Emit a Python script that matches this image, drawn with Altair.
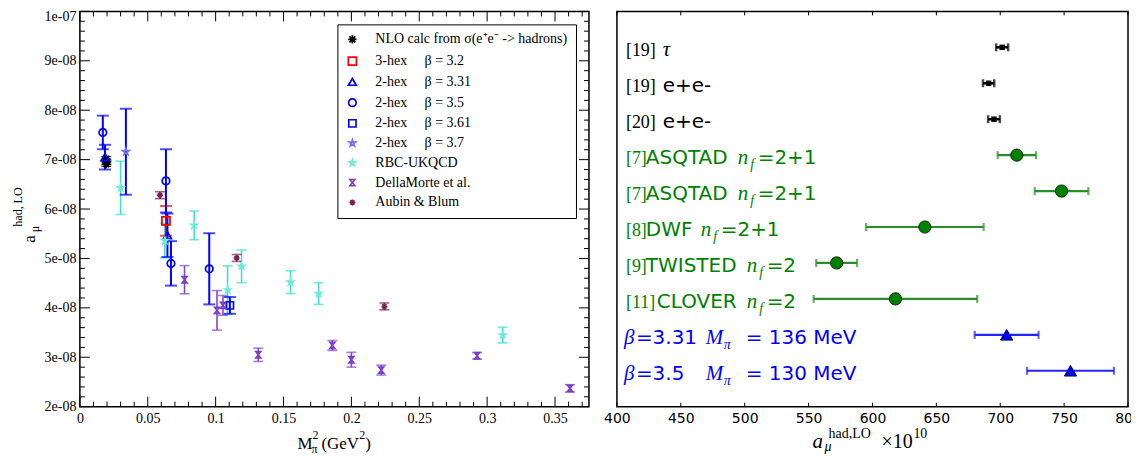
import altair as alt
import pandas as pd

NB = "\u00a0"

# ================= LEFT PANEL DATA  (x = M_pi^2 [GeV^2], y = a_mu^{had,LO}) =================
S_NLO = "NLO calc from σ(e⁺e⁻ -> hadrons)"
S_H32 = "3-hex" + NB * 5 + "β = 3.2"
S_H331 = "2-hex" + NB * 5 + "β = 3.31"
S_H35 = "2-hex" + NB * 5 + "β = 3.5"
S_H361 = "2-hex" + NB * 5 + "β = 3.61"
S_H37 = "2-hex" + NB * 5 + "β = 3.7"
S_RBC = "RBC-UKQCD"
S_DM = "DellaMorte et al."
S_AB = "Aubin & Blum"
series_order = [S_NLO, S_H32, S_H331, S_H35, S_H361, S_H37, S_RBC, S_DM, S_AB]

nlo_m2 = [0.0195, 0.0195, 0.0195]
nlo_amu = [6.909e-8, 6.951e-8, 7.015e-8]
nlo_err = [0.044e-8, 0.046e-8, 0.047e-8]

h32_m2 = [0.0634]
h32_amu = [5.76e-8]
h32_err = [0.30e-8]

h331_m2 = [0.0185, 0.0645]
h331_amu = [7.05e-8, 5.47e-8]
h331_err = [0.25e-8, 0.44e-8]

h35_m2 = [0.0169, 0.0634, 0.0671, 0.0953]
h35_amu = [7.55e-8, 6.57e-8, 4.90e-8, 4.79e-8]
h35_err = [0.34e-8, 0.64e-8, 0.45e-8, 0.72e-8]

h361_m2 = [0.1105]
h361_amu = [4.05e-8]
h361_err = [0.17e-8]

h37_m2 = [0.0339]
h37_amu = [7.16e-8]
h37_err = [0.87e-8]

rbc_m2 = [0.0300, 0.0626, 0.0842, 0.1088, 0.1191, 0.1552, 0.1759, 0.3115]
rbc_amu = [6.43e-8, 5.36e-8, 5.67e-8, 4.36e-8, 4.84e-8, 4.52e-8, 4.29e-8, 3.45e-8]
rbc_err = [0.54e-8, 0.35e-8, 0.29e-8, 0.49e-8, 0.33e-8, 0.23e-8, 0.22e-8, 0.16e-8]

dm_m2 = [0.0771, 0.1010, 0.1054, 0.1314, 0.1860, 0.2000, 0.2220, 0.2926, 0.3610]
dm_amu = [4.57e-8, 3.95e-8, 4.05e-8, 3.05e-8, 3.24e-8, 2.95e-8, 2.74e-8, 3.03e-8, 2.37e-8]
dm_err = [0.285e-8, 0.40e-8, 0.20e-8, 0.135e-8, 0.10e-8, 0.15e-8, 0.10e-8, 0.065e-8, 0.075e-8]

ab_m2 = [0.0590, 0.1155, 0.2243]
ab_amu = [6.28e-8, 5.01e-8, 4.03e-8]
ab_err = [0.07e-8, 0.07e-8, 0.07e-8]

left_sets = [
    (S_NLO, nlo_m2, nlo_amu, nlo_err),
    (S_H32, h32_m2, h32_amu, h32_err),
    (S_H331, h331_m2, h331_amu, h331_err),
    (S_H35, h35_m2, h35_amu, h35_err),
    (S_H361, h361_m2, h361_amu, h361_err),
    (S_H37, h37_m2, h37_amu, h37_err),
    (S_RBC, rbc_m2, rbc_amu, rbc_err),
    (S_DM, dm_m2, dm_amu, dm_err),
    (S_AB, ab_m2, ab_amu, ab_err),
]

x_major = [0, 0.05, 0.1, 0.15, 0.2, 0.25, 0.3, 0.35]
x_minor = [round(i * 0.01, 2) for i in range(38) if i % 5 != 0]
y_major = [2e-8, 3e-8, 4e-8, 5e-8, 6e-8, 7e-8, 8e-8, 9e-8, 1e-7]
y_minor = [round((20 + i * 2) * 1e-9, 12) for i in range(41) if i % 5 != 0]

# ---- styles (kept apart from the data) ----
ASTER = "M-1,0L1,0M0,-1L0,1M-0.7,-0.7L0.7,0.7M-0.7,0.7L0.7,-0.7"
STAR = ("M0,-1L0.2245,-0.309L0.9511,-0.309L0.3633,0.118L0.5878,0.809L0,0.382"
        "L-0.5878,0.809L-0.3633,0.118L-0.9511,-0.309L-0.2245,-0.309Z")
HOUR = "M-0.8,-1L0.8,-1L-0.8,1L0.8,1Z"
STY = {
    S_NLO: dict(color="#000000", shape=ASTER, size=70, sw=1.8, bar="#000000", th=1.5, cap=10),
    S_H32: dict(color="#ff0000", shape="square", size=36, sw=1.5, bar="#ff0000", th=2, cap=12),
    S_H331: dict(color="#0000ff", shape="triangle-up", size=110, sw=2, bar="#0000ff", th=2, cap=12),
    S_H35: dict(color="#0000ff", shape="circle", size=75, sw=2, bar="#0000ff", th=2, cap=12),
    S_H361: dict(color="#0000ff", shape="square", size=60, sw=2, bar="#0000ff", th=2, cap=12),
    S_H37: dict(color="#7070ff", shape=STAR, size=160, sw=1, bar="#0000ff", th=2, cap=12),
    S_RBC: dict(color="#70e8dc", shape=STAR, size=24, sw=1, bar="#40e0d0", th=1.6, cap=10),
    S_DM: dict(color="#7a3bc8", shape=HOUR, size=20, sw=1.3, bar="#8048cc", th=1.6, cap=10),
    S_AB: dict(color="#7a1f55", shape=ASTER, size=50, sw=1.4, bar="#7a1f55", th=1.6, cap=10),
}

rows = []
for name, xs, ys, es in left_sets:
    for x, y, e in zip(xs, ys, es):
        rows.append(dict(series=name, m2=x, amu=y, lo=y - e, hi=y + e))
dfl = pd.DataFrame(rows)

W1, H1 = 510, 396
XS = alt.Scale(domain=[0, 0.375], nice=False, zero=False)
YS = alt.Scale(domain=[2e-8, 1e-7], nice=False, zero=False)
SERIF = "Liberation Serif"
xax = alt.Axis(values=x_major, labelExpr="toString(round(datum.value*100)/100)",
               ticks=False, domain=False, grid=False, title=None, labelFont=SERIF,
               labelFontSize=14, labelColor="black", labelPadding=5,
               labelFlush=False, labelOverlap=False)
yax = alt.Axis(values=y_major, labelExpr="replace(format(datum.value, '.0e'), 'e-', 'e-0')",
               ticks=False, domain=False, grid=False, title=None, labelFont=SERIF,
               labelFontSize=14, labelColor="black", labelPadding=4,
               labelFlush=False, labelOverlap=False,
               labelOffset={"condition": {"test": "datum.value > 9.9e-8", "value": 5}, "value": 0})


def X1(f):
    return alt.X(f, type="quantitative", scale=XS, axis=xax)


def Y1(f):
    return alt.Y(f, type="quantitative", scale=YS, axis=yax)


def txt(text, x, y, size, font=SERIF, style="normal", angle=0, color="black",
        align="left", baseline="alphabetic"):
    return alt.Chart(pd.DataFrame({"t": [text]})).mark_text(
        font=font, fontSize=size, fontStyle=style, angle=angle, color=color,
        align=align, baseline=baseline
    ).encode(x=alt.value(x), y=alt.value(y), text="t:N")


left_layers = []
# inward frame ticks
for vals, ln in ((x_major, 10), (x_minor, 5)):
    d = pd.DataFrame({"v": vals})
    left_layers.append(alt.Chart(d).mark_rule(color="black", strokeWidth=1).encode(
        x=X1("v"), y=alt.value(H1), y2=alt.value(H1 - ln)))
    left_layers.append(alt.Chart(d).mark_rule(color="black", strokeWidth=1).encode(
        x=X1("v"), y=alt.value(0), y2=alt.value(ln)))
for vals, ln in ((y_major, 10), (y_minor, 5)):
    d = pd.DataFrame({"v": vals})
    left_layers.append(alt.Chart(d).mark_rule(color="black", strokeWidth=1).encode(
        y=Y1("v"), x=alt.value(0), x2=alt.value(ln)))
    left_layers.append(alt.Chart(d).mark_rule(color="black", strokeWidth=1).encode(
        y=Y1("v"), x=alt.value(W1), x2=alt.value(W1 - ln)))

# error bars per series
for name in [S_RBC, S_DM, S_AB, S_H37, S_H32, S_H361, S_H35, S_H331, S_NLO]:
    st = STY[name]
    left_layers.append(
        alt.Chart(dfl[dfl.series == name]).mark_errorbar(
            color=st["bar"], thickness=st["th"], ticks={"size": st["cap"]}
        ).encode(x=X1("m2"), y=Y1("lo"), y2="hi:Q")
    )

leg = alt.Legend(title=None, orient="none", legendX=258, legendY=13, fillColor="white",
                 strokeColor="black", padding=8, labelFont=SERIF, labelFontSize=14,
                 labelColor="black", rowPadding=5.8, labelOffset=16, labelLimit=400)
pts = alt.Chart(dfl).mark_point(filled=False, fill="transparent", opacity=1).encode(
    x=X1("m2"), y=Y1("amu"),
    color=alt.Color("series:N", scale=alt.Scale(domain=series_order,
                    range=[STY[s]["color"] for s in series_order]), legend=leg),
    shape=alt.Shape("series:N", scale=alt.Scale(domain=series_order,
                    range=[STY[s]["shape"] for s in series_order]), legend=leg),
    size=alt.Size("series:N", scale=alt.Scale(domain=series_order,
                  range=[STY[s]["size"] for s in series_order]), legend=leg),
    strokeWidth=alt.StrokeWidth("series:N", scale=alt.Scale(domain=series_order,
                                range=[STY[s]["sw"] for s in series_order]), legend=leg),
)
left_layers.append(pts)

# axis titles (composed with sub/superscripts)
left_layers += [
    txt("a", -50, 228, 17, angle=270, align="center", baseline="middle"),
    txt("μ", -45, 218, 12, angle=270, align="center", baseline="middle"),
    txt("had, LO", -62, 196, 12, angle=270, align="center", baseline="middle"),
    txt("M", 218, 438, 17),
    txt("π", 232, 442, 12),
    txt("2", 233, 428, 12),
    txt("(GeV", 242, 438, 17),
    txt("2", 280, 428, 12),
    txt(")", 286, 438, 17),
]
left = alt.layer(*left_layers).properties(width=W1, height=H1)

# ================= RIGHT PANEL DATA =================
r_rows = [1, 2, 3, 4, 5, 6, 7, 8, 9, 10]
r_vals = [701.5, 690.9, 695.1, 713, 748, 641, 572, 618, 705, 755]
r_errs = [4.7, 4.4, 4.6, 15, 21, 46, 16, 64, 25, 34]
r_group = ["pheno", "pheno", "pheno", "lat", "lat", "lat", "lat", "lat", "this", "this"]
r_ticks = [400, 450, 500, 550, 600, 650, 700, 750, 800]

dfr = pd.DataFrame({"row": r_rows, "val": r_vals, "err": r_errs, "grp": r_group})
dfr["lo"] = dfr["val"] - dfr["err"]
dfr["hi"] = dfr["val"] + dfr["err"]

# label pieces: (row, text, kind); pixel starts kept separately
lab_rows = [1, 1, 2, 2, 3, 3,
            4, 4, 4, 4, 4, 5, 5, 5, 5, 5,
            6, 6, 6, 6, 6, 7, 7, 7, 7, 7, 8, 8, 8, 8, 8,
            9, 9, 9, 9, 9, 10, 10, 10, 10, 10]
lab_text = ["[19]", "τ", "[19]", "e+e-", "[20]", "e+e-",
            "[7]", "ASQTAD", "n", "f", "=2+1", "[7]", "ASQTAD", "n", "f", "=2+1",
            "[8]", "DWF", "n", "f", "=2+1", "[9]", "TWISTED", "n", "f", "=2",
            "[11]", "CLOVER", "n", "f", "=2",
            "β", "=3.31", "M", "π", "= 136 MeV", "β", "=3.5", "M", "π", "= 130 MeV"]
lab_kind = ["ref", "math", "ref", "sans", "ref", "sans",
            "ref", "sans", "math", "sub", "sans", "ref", "sans", "math", "sub", "sans",
            "ref", "sans", "math", "sub", "sans", "ref", "sans", "math", "sub", "sans",
            "ref", "sans", "math", "sub", "sans",
            "math", "sans", "math", "sub", "sans", "math", "sans", "math", "sub", "sans"]
lab_px = [627, 664, 627, 664, 627, 664,
          627, 647, 739, 751.5, 759, 627, 647, 739, 751.5, 759,
          627, 647, 702, 714.5, 722, 627, 647, 748, 760.5, 768,
          627, 658, 748, 760.5, 768,
          625, 637, 707, 725, 747, 625, 637, 707, 725, 747]
grp_color = {"pheno": "#000000", "lat": "#008000", "this": "#0000ff"}

W2, H2 = 512, 396
PX0 = 618
dlab = pd.DataFrame({"row": lab_rows, "t": lab_text, "kind": lab_kind})
dlab["xv"] = [400 + (p - PX0) * 400 / W2 for p in lab_px]
dlab["c"] = [grp_color[r_group[r - 1]] for r in lab_rows]

RXS = alt.Scale(domain=[400, 800], nice=False, zero=False)
RYS = alt.Scale(domain=[0, 11], reverse=True, nice=False, zero=False)
rxax = alt.Axis(values=r_ticks, format="d", ticks=False, domain=False, grid=False, title=None,
                labelFont="DejaVu Sans", labelFontSize=14, labelColor="black", labelPadding=5,
                labelFlush=False, labelOverlap=False)


def X2(f):
    return alt.X(f, type="quantitative", scale=RXS, axis=rxax)


def Y2(f):
    return alt.Y(f, type="quantitative", scale=RYS, axis=None)


right_layers = []
dt = pd.DataFrame({"v": r_ticks})
right_layers.append(alt.Chart(dt).mark_rule(color="black").encode(
    x=X2("v"), y=alt.value(H2), y2=alt.value(H2 - 4)))
right_layers.append(alt.Chart(dt).mark_rule(color="black").encode(
    x=X2("v"), y=alt.value(0), y2=alt.value(4)))

bar_style = {"pheno": ("#000000", 2.5, 8), "lat": ("#2a8c2a", 2.2, 8), "this": ("#2424ff", 2.2, 8)}
for g, (col, th, cap) in bar_style.items():
    right_layers.append(alt.Chart(dfr[dfr.grp == g]).mark_errorbar(
        color=col, thickness=th, ticks={"size": cap}
    ).encode(x=X2("lo"), x2="hi:Q", y=Y2("row")))

right_layers.append(alt.Chart(dfr[dfr.grp == "pheno"]).mark_point(
    shape="square", filled=True, size=30, color="black", opacity=1
).encode(x=X2("val"), y=Y2("row")))
right_layers.append(alt.Chart(dfr[dfr.grp == "lat"]).mark_point(
    shape="circle", filled=True, size=150, fill="#008000", stroke="#002a00",
    strokeWidth=1, opacity=1
).encode(x=X2("val"), y=Y2("row")))
right_layers.append(alt.Chart(dfr[dfr.grp == "this"]).mark_point(
    shape="triangle-up", filled=True, size=150, fill="#0000ff", stroke="#000050",
    strokeWidth=1, opacity=1
).encode(x=X2("val"), y=Y2("row")))

kind_style = {
    "ref": dict(font=SERIF, fontSize=18, fontStyle="normal", dy=9),
    "sans": dict(font="DejaVu Sans", fontSize=20, fontStyle="normal", dy=9),
    "math": dict(font=SERIF, fontSize=21, fontStyle="italic", dy=9),
    "sub": dict(font=SERIF, fontSize=14, fontStyle="italic", dy=14),
}
for k, ks in kind_style.items():
    right_layers.append(alt.Chart(dlab[dlab.kind == k]).mark_text(
        align="left", baseline="alphabetic", **ks
    ).encode(x=X2("xv"), y=Y2("row"), text="t:N", color=alt.Color("c:N", scale=None)))

right_layers += [
    txt("a", 196, 437, 21, style="italic"),
    txt("μ", 208, 440, 14, style="italic"),
    txt("had,LO", 212, 427, 14),
    txt("×10", 265, 437, 20),
    txt("10", 297, 427, 14),
]
right = alt.layer(*right_layers).properties(width=W2, height=H2)

chart = alt.hconcat(left, right, spacing=28, bounds="flush").properties(
    padding={"left": 3, "top": 0, "right": -12, "bottom": 0},
    background="white",
).configure_view(stroke="black", strokeWidth=1.5)

chart.save("out.html", embed_options={"renderer": "svg", "actions": False})
